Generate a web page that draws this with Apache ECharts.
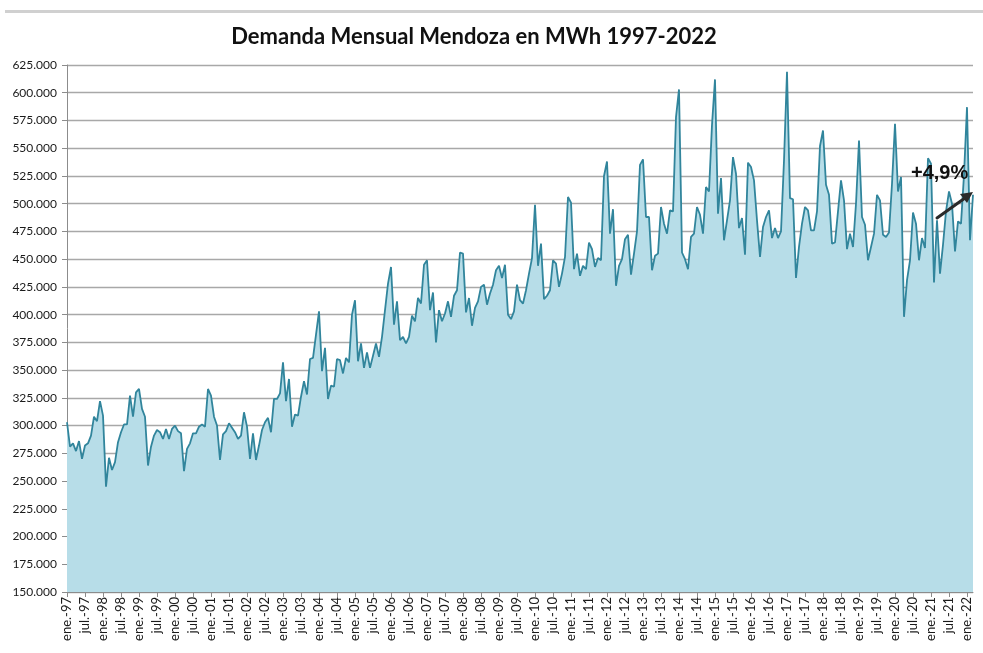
<!DOCTYPE html>
<html>
<head>
<meta charset="utf-8">
<script src="https://cdn.jsdelivr.net/npm/echarts@6/dist/echarts.min.js"></script>
<style>
html,body{margin:0;padding:0;background:#fff;}
#chart{width:983px;height:653px;}
</style>
</head>
<body>
<div id="chart"></div>
<script>
// Monthly demand in thousands of MWh, Jan-1997 .. Mar-2022
const startYear = 1997;
const monthNames = ['ene.','feb.','mar.','abr.','may.','jun.','jul.','ago.','sep.','oct.','nov.','dic.'];
const demand1997_2001 = [303,281,284,277,286,270,282,284,291,308,304,322,
  309,245,271,260,267,285,294,301,301,327,308,330,
  333,315,308,264,281,291,296,294,288,297,288,297,
  300,295,293,259,279,284,293,293,299,301,299,333,
  327,308,300,269,292,295,302,298,294,288,291,312];
const demand2002_2006 = [299,270,293,269,282,296,303,307,294,324,324,329,
  357,322,342,299,310,309,326,340,328,360,361,382,
  403,349,370,324,336,335,360,359,347,361,357,400,
  413,358,374,352,366,352,363,374,362,380,404,428,
  443,391,412,377,380,374,380,399,394,415,410,445];
const demand2007_2011 = [449,404,420,375,404,394,401,412,398,417,422,456,
  455,402,415,390,406,412,425,427,409,419,427,440,
  444,433,445,400,396,403,427,413,410,422,437,451,
  499,444,464,414,417,422,449,446,425,437,452,506,
  501,441,455,435,444,441,465,459,443,451,449,525];
const demand2012_2016 = [538,473,495,426,444,450,468,472,436,455,475,535,
  540,488,488,440,453,455,497,482,473,494,493,578,
  603,456,450,441,470,473,497,490,473,515,511,571,
  612,491,523,467,485,503,542,527,478,487,454,537,
  533,521,485,452,479,488,494,469,478,469,475,539];
const demand2017_2022 = [619,505,504,433,461,482,497,494,476,476,493,552,
  566,517,508,464,465,493,521,503,459,473,461,500,
  557,488,481,449,461,473,508,503,472,470,474,518,
  572,511,524,398,431,449,492,482,449,469,460,541,
  536,429,485,437,463,493,511,500,457,484,482,526,
  587,467,508];
const yTicks = {min:150000, max:625000, step:25000};
const titleText = 'Demanda Mensual Mendoza en MWh 1997-2022';
const noteText = '+4,9%';

const values = [].concat(demand1997_2001, demand2002_2006, demand2007_2011, demand2012_2016, demand2017_2022).map(v => v * 1000);
const categories = values.map((v, i) => monthNames[i % 12] + '-' + String((startYear + Math.floor(i / 12)) % 100).padStart(2, '0'));

const fmt = v => String(v).replace(/\B(?=(\d{3})+(?!\d))/g, '.');

const chart = echarts.init(document.getElementById('chart'), null, {renderer: 'canvas'});
chart.setOption({
  animation: false,
  backgroundColor: '#ffffff',
  title: {
    text: titleText,
    left: 469, top: 21, textAlign: 'center',
    textStyle: {fontFamily: 'Lato', fontWeight: 'bold', fontSize: 22, color: '#111'}
  },
  grid: {left: 67, right: 10, top: 65, bottom: 61, containLabel: false},
  xAxis: {
    type: 'category',
    data: categories,
    boundaryGap: false,
    axisLine: {lineStyle: {color: '#8c8c8c', width: 1}},
    axisTick: {show: true, length: 5, interval: (i) => i % 6 === 0, lineStyle: {color: '#8c8c8c'}},
    axisLabel: {
      interval: (i) => i % 6 === 0,
      rotate: 90, margin: 5,
      fontFamily: 'Lato', fontSize: 13, color: '#1a1a1a'
    },
    splitLine: {show: false}
  },
  yAxis: {
    type: 'value',
    min: yTicks.min, max: yTicks.max, interval: yTicks.step,
    axisLine: {show: true, lineStyle: {color: '#8c8c8c', width: 1}},
    axisTick: {show: true, length: 5, lineStyle: {color: '#8c8c8c'}},
    axisLabel: {formatter: fmt, margin: 10, fontFamily: 'Lato', fontSize: 12, color: '#1a1a1a'},
    splitLine: {show: true, lineStyle: {color: '#a8a8a8', width: 1.4}}
  },
  series: [{
    type: 'line',
    data: values,
    symbol: 'none',
    smooth: false,
    lineStyle: {color: '#31859c', width: 1.8},
    areaStyle: {color: '#b7dde8', opacity: 1},
    z: 3
  }],
  graphic: [
    {type: 'rect', left: 5, top: 10, shape: {width: 978, height: 3}, style: {fill: '#d0d0d0'}, silent: true},
    {type: 'text', left: 911, top: 163, z: 10,
      style: {text: noteText, font: 'bold 20px "Liberation Sans", Arial, sans-serif', fill: '#111'}},
    {type: 'line', z: 10, shape: {x1: 937, y1: 218, x2: 965, y2: 198},
      style: {stroke: '#2a2a2a', lineWidth: 3, lineCap: 'round'}},
    {type: 'polygon', z: 10, shape: {points: [[973, 192], [960, 194], [967, 203]]},
      style: {fill: '#2a2a2a'}}
  ]
});
</script>
</body>
</html>
